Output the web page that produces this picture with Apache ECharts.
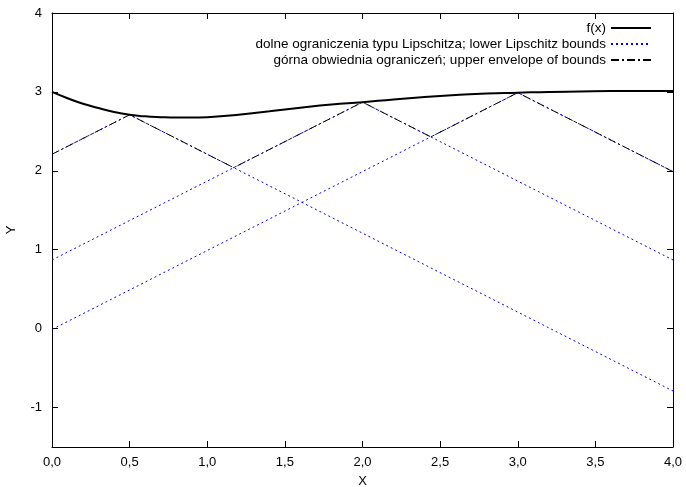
<!DOCTYPE html>
<html>
<head>
<meta charset="utf-8">
<script src="https://cdn.jsdelivr.net/npm/echarts@6/dist/echarts.min.js"></script>
<style>
  html, body { margin: 0; padding: 0; background: #fff; }
  #main { width: 686px; height: 487px; }
</style>
</head>
<body>
<div id="main"></div>
<script>
// f(x)
var fX = [0, 0.1, 0.2, 0.3, 0.4, 0.5, 0.6, 0.7, 0.8, 0.9, 1.0, 1.2, 1.4, 1.6, 1.8, 2.0, 2.2, 2.4, 2.6, 2.8, 3.0, 3.2, 3.4, 3.6, 3.8, 4.0];
var fY = [3.00, 2.92, 2.85, 2.795, 2.745, 2.71, 2.69, 2.68, 2.675, 2.675, 2.68, 2.71, 2.755, 2.80, 2.84, 2.87, 2.905, 2.935, 2.96, 2.98, 2.99, 3.0, 3.005, 3.01, 3.01, 3.01];

// lower Lipschitz bounds (cones), each [x, y] vertex list
var cone1 = [[0, 2.21], [0.5, 2.71], [4, -0.79]];
var cone2 = [[0, 0.87], [2, 2.87], [4, 0.87]];
var cone3 = [[0, -0.01], [3, 2.99], [4, 1.99]];

// upper envelope of the bounds
var envelope = [[0, 2.21], [0.5, 2.71], [1.17, 2.04], [2, 2.87], [2.44, 2.43], [3, 2.99], [4, 1.99]];

var yTicks = [-1, 0, 1, 2, 3, 4];

var nameF = 'f(x)';
var nameLower = 'dolne ograniczenia typu Lipschitza; lower Lipschitz bounds';
var nameUpper = 'górna obwiednia ograniczeń; upper envelope of bounds';

var fData = fX.map(function (x, i) { return [x, fY[i]]; });

var font = 'Liberation Sans, Arial, sans-serif';
var myChart = echarts.init(document.getElementById('main'));

var lowerStyle = { color: '#0000ff', width: 1, type: [2, 3] };
var borderLine = { onZero: false, lineStyle: { color: '#000', width: 1 } };

var option = {
    animation: false,
    grid: { left: 52, right: 13, top: 13, bottom: 40, outerBoundsMode: 'none' },
    legend: {
        orient: 'vertical',
        right: 29,
        top: 16,
        align: 'right',
        itemGap: 2,
        itemWidth: 40,
        itemHeight: 13,
        itemStyle: { opacity: 0 },
        textStyle: { fontFamily: font, fontSize: 13.5, color: '#000' },
        data: [nameF, nameLower, nameUpper]
    },
    xAxis: [{
        type: 'value',
        min: 0,
        max: 4,
        interval: 0.5,
        name: 'X',
        nameLocation: 'middle',
        nameGap: 28,
        nameTextStyle: { fontFamily: font, fontSize: 13, color: '#000' },
        axisLine: borderLine,
        axisTick: { inside: true, length: 6, lineStyle: { color: '#000' } },
        axisLabel: {
            fontFamily: font, fontSize: 13, color: '#000', margin: 9,
            formatter: function (v) { return v.toFixed(1).replace('.', ','); }
        },
        splitLine: { show: false }
    }, {
        type: 'value',
        position: 'top',
        min: 0,
        max: 4,
        interval: 0.5,
        axisLine: borderLine,
        axisTick: { inside: true, length: 6, lineStyle: { color: '#000' } },
        axisLabel: { show: false },
        splitLine: { show: false }
    }],
    yAxis: [{
        type: 'value',
        min: -1.5,
        max: 4,
        name: 'Y',
        nameLocation: 'middle',
        nameGap: 34,
        nameTextStyle: { fontFamily: font, fontSize: 13, color: '#000' },
        axisLine: borderLine,
        axisTick: { inside: true, length: 6, customValues: yTicks, lineStyle: { color: '#000' } },
        axisLabel: { fontFamily: font, fontSize: 13, color: '#000', margin: 10, customValues: yTicks },
        splitLine: { show: false }
    }, {
        type: 'value',
        position: 'right',
        min: -1.5,
        max: 4,
        axisLine: { show: true, onZero: false, lineStyle: { color: '#000', width: 1 } },
        axisTick: { show: true, inside: true, length: 6, customValues: yTicks, lineStyle: { color: '#000' } },
        axisLabel: { show: false },
        splitLine: { show: false }
    }],
    series: [
        {
            name: nameLower, type: 'line', data: cone1, symbol: 'none',
            lineStyle: lowerStyle, itemStyle: { color: '#0000ff' }
        },
        {
            name: nameLower, type: 'line', data: cone2, symbol: 'none',
            lineStyle: lowerStyle, itemStyle: { color: '#0000ff' }
        },
        {
            name: nameLower, type: 'line', data: cone3, symbol: 'none',
            lineStyle: lowerStyle, itemStyle: { color: '#0000ff' }
        },
        {
            name: nameUpper, type: 'line', data: envelope, symbol: 'none',
            lineStyle: { color: '#000', width: 1, type: [8, 3, 2, 3] },
            itemStyle: { color: '#000' }
        },
        {
            name: nameF, type: 'line', data: fData, symbol: 'none', smooth: true,
            lineStyle: { color: '#000', width: 2 },
            itemStyle: { color: '#000' }
        }
    ]
};

myChart.setOption(option);
</script>
</body>
</html>
